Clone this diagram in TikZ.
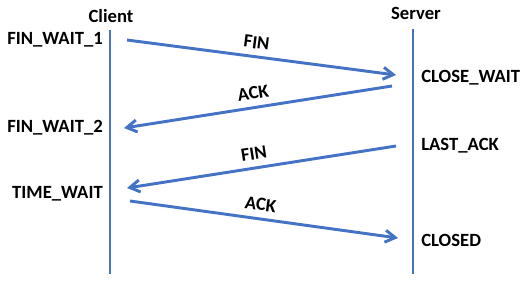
\documentclass[tikz,border=0pt]{standalone}
\usepackage{fontspec}
\setmainfont{Carlito}
\usetikzlibrary{arrows.meta,positioning}
\definecolor{lifeblue}{HTML}{4472C4}

\begin{document}
\begin{tikzpicture}[x=0.75pt,y=-0.75pt, every node/.style={font=\fontsize{14}{16}\selectfont\bfseries, inner sep=0pt, text=black},
  life/.style={lifeblue, line width=2.2pt},
  msg/.style={-{Straight Barb[length=7.5pt,width=9pt,line width=2.2pt]}, lifeblue, line width=2.2pt},
  tag/.style={sloped, above, inner sep=5pt}]
  \useasboundingbox (0,0) rectangle (525,283);
  % the two ends
  \node (client) at (111,16) {Client};
  \node (server) at (416,13) {Server};
  \coordinate (cbot) at (110,274);
  \coordinate (sbot) at (413,274);
  \draw[life] (110,30) -- (cbot);
  \draw[life] (413,29) -- (sbot);
  % states
  \node[anchor=east] (fw1) at (103,40) {FIN\_WAIT\_1};
  \node[anchor=east] (fw2) at (103,128) {FIN\_WAIT\_2};
  \node[anchor=east] (tw) at (103,194) {TIME\_WAIT};
  \node[anchor=west] (cw) at (421,78) {CLOSE\_WAIT};
  \node[anchor=west] (la) at (421,146) {LAST\_ACK};
  \node[anchor=west] (cl) at (421,240) {CLOSED};
  % message ends
  \coordinate (c1) at (127,40);
  \coordinate (s1) at (396,75);
  \coordinate (s2) at (392,86);
  \coordinate (c2) at (124,128);
  \coordinate (s3) at (396,146);
  \coordinate (c3) at (127,188);
  \coordinate (c4) at (130,201);
  \coordinate (s4) at (398,238);
  \draw[msg] (c1) -- node[tag,pos=0.475] {FIN} (s1);
  \draw[msg] (s2) -- node[tag,pos=0.51] {ACK} (c2);
  \draw[msg] (s3) -- node[tag,pos=0.52] {FIN} (c3);
  \draw[msg] (c4) -- node[tag,pos=0.48] {ACK} (s4);
\end{tikzpicture}
\end{document}
